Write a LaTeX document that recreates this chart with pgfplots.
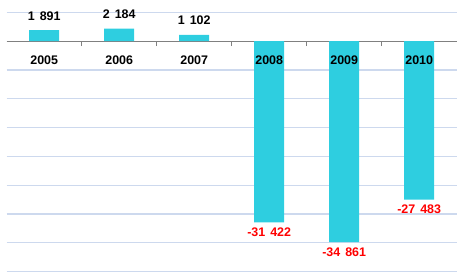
\documentclass[border=0pt]{standalone}
\usepackage{fontspec}
\setmainfont{Liberation Sans}
\usepackage{pgfplots}
\pgfplotsset{compat=1.18}
\definecolor{barc}{RGB}{46,206,224}
\definecolor{gridc}{RGB}{205,217,238}
\definecolor{axc}{RGB}{128,128,128}
\newcommand{\lf}{\bfseries\fontsize{12.5}{14}\selectfont}
\begin{document}
\begin{tikzpicture}
\useasboundingbox (-6.7bp,-6.3bp) rectangle (457.3bp,271.7bp);
\begin{axis}[
  at={(0,0)}, anchor=south west,
  scale only axis, width=450bp, height=259.4bp,
  xmin=-0.5, xmax=5.5, ymin=-40000, ymax=5000,
  axis x line=middle,
  axis line style={-, draw=axc, line width=1bp},
  y axis line style={draw=none},
  scaled y ticks=false,
  ytick={-40000,-35000,...,5000}, yticklabels={},
  ytick style={draw=none},
  ymajorgrids, grid style={draw=gridc, line width=1.2bp},
  xtick={-0.5,0.5,...,5.5}, xticklabels={},
  xtick style={draw=axc, line width=1bp},
  xtick align=outside, major tick length=5bp,
  clip=false,
]
\addplot[ybar, bar width=30bp, bar shift=0pt, fill=barc, draw=none,
  nodes near coords, point meta=explicit symbolic,
  every node near coord/.append style={font=\lf, text=black, anchor=center, yshift=14.5bp}]
  coordinates {(0,1891)[1\hspace{5bp}891] (1,2184)[2\hspace{5bp}184] (2,1102)[1\hspace{5bp}102]};
\addplot[ybar, bar width=30bp, bar shift=0pt, fill=barc, draw=none,
  nodes near coords, point meta=explicit symbolic,
  every node near coord/.append style={font=\lf, text=red, anchor=center, yshift=-10bp}]
  coordinates {(3,-31422)[-31\hspace{5bp}422] (4,-34861)[-34\hspace{5bp}861] (5,-27483)[-27\hspace{5bp}483]};
\addplot[draw=none, mark=none, nodes near coords, point meta=explicit symbolic,
  every node near coord/.append style={font=\lf, text=black, anchor=center, yshift=-19bp}]
  coordinates {(0,0)[2005] (1,0)[2006] (2,0)[2007] (3,0)[2008] (4,0)[2009] (5,0)[2010]};
\end{axis}
\end{tikzpicture}
\end{document}
